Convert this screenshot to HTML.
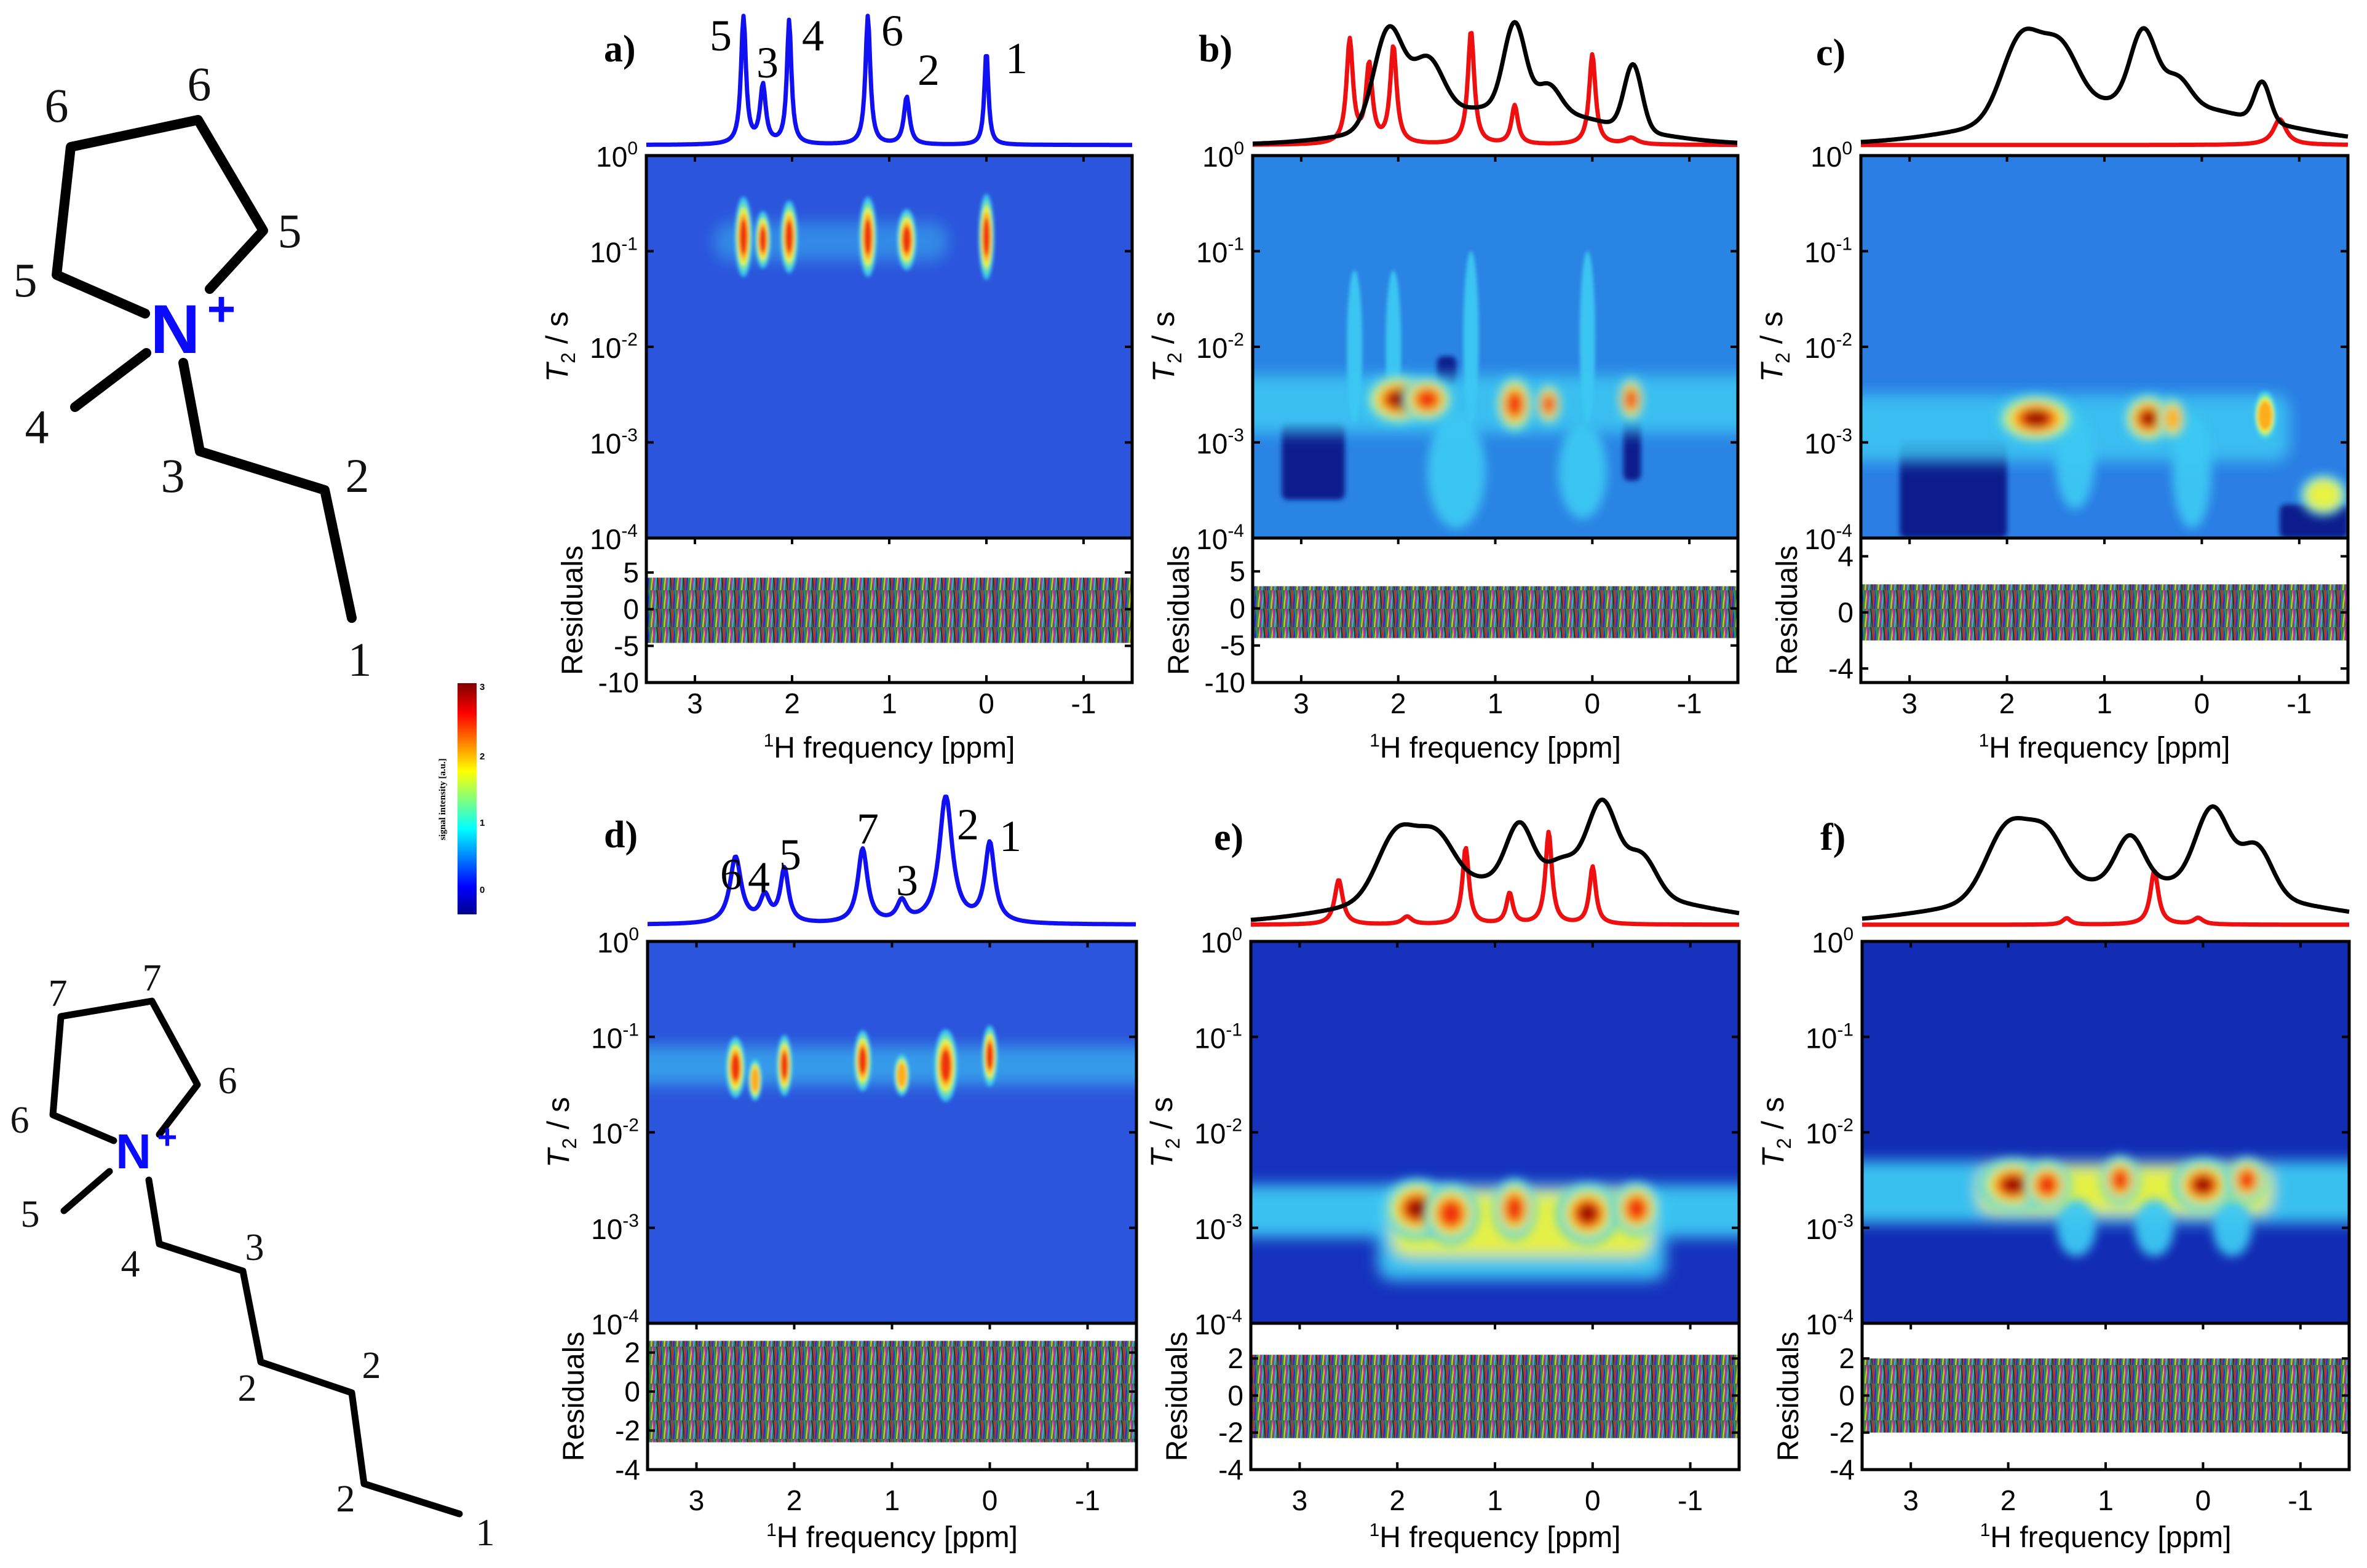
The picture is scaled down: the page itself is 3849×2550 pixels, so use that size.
<!DOCTYPE html>
<html><head><meta charset="utf-8"><title>T2-resolved NMR spectra</title>
<style>
html,body{margin:0;padding:0;background:#fff;}
svg{display:block;}
text{font-family:"Liberation Sans",sans-serif;}
.serif{font-family:"Liberation Serif",serif;}
</style></head>
<body>
<svg id="fig" xmlns="http://www.w3.org/2000/svg" width="3849" height="2550" viewBox="0 0 3849 2550">
<defs>
<filter id="blur" x="-50%" y="-50%" width="200%" height="200%"><feGaussianBlur stdDeviation="8"/></filter>
<filter id="blurS" x="-50%" y="-50%" width="200%" height="200%"><feGaussianBlur stdDeviation="3"/></filter>
<filter id="blurR" x="-20%" y="-50%" width="140%" height="200%"><feGaussianBlur stdDeviation="12"/></filter>
<filter id="blur2" x="-50%" y="-50%" width="200%" height="200%"><feGaussianBlur stdDeviation="4"/></filter>
<linearGradient id="jetgrad" x1="0" y1="1" x2="0" y2="0">
<stop offset="0" stop-color="#00008f"/><stop offset="0.12" stop-color="#0000ff"/><stop offset="0.37" stop-color="#00ffff"/>
<stop offset="0.62" stop-color="#ffff00"/><stop offset="0.87" stop-color="#ff0000"/><stop offset="1" stop-color="#800000"/>
</linearGradient>
<pattern id="resid" width="21" height="30" patternUnits="userSpaceOnUse">
<rect width="21" height="30" fill="#4f6658"/>
<path d="M0 0L3 30" stroke="#e02020" stroke-width="2.4"/><path d="M3 30L6 0" stroke="#2030e0" stroke-width="2.4"/>
<path d="M6 0L9 30" stroke="#20a040" stroke-width="2.4"/><path d="M9 30L12 0" stroke="#c8c820" stroke-width="2.4"/>
<path d="M12 0L15 30" stroke="#d020d0" stroke-width="2.4"/><path d="M15 30L18 0" stroke="#20c0c0" stroke-width="2.4"/>
<path d="M18 0L21 30" stroke="#303030" stroke-width="2.2"/>
</pattern>
</defs>
<g id="mol1" stroke="#000" stroke-width="16" stroke-linecap="round" stroke-linejoin="round" fill="none">
<polyline points="236,510 92,447 115,239 322,195 428,375 341,470"/>
<line x1="238" y1="574" x2="122" y2="662"/>
<polyline points="298,590 325,734 528,797 572,1005"/>
</g>
<g class="serif" font-size="78" fill="#111">
<text class="serif" x="92" y="198" text-anchor="middle">6</text>
<text class="serif" x="324" y="163" text-anchor="middle">6</text>
<text class="serif" x="471" y="402" text-anchor="middle">5</text>
<text class="serif" x="41" y="482" text-anchor="middle">5</text>
<text class="serif" x="60" y="721" text-anchor="middle">4</text>
<text class="serif" x="281" y="800" text-anchor="middle">3</text>
<text class="serif" x="581" y="800" text-anchor="middle">2</text>
<text class="serif" x="585" y="1099" text-anchor="middle">1</text>
<text x="285" y="574" text-anchor="middle" font-size="112" font-weight="bold" fill="#0a0aff">N</text>
<text x="360" y="530" text-anchor="middle" font-size="80" font-weight="bold" fill="#0a0aff">+</text>
</g>
<g id="mol2" stroke="#000" stroke-width="11" stroke-linecap="round" stroke-linejoin="round" fill="none">
<polyline points="185,1855 86,1813 99,1653 247,1628 321,1764 259,1845"/>
<line x1="178" y1="1905" x2="104" y2="1969"/>
<polyline points="242,1919 259,2023 395,2067 424,2215 572,2265 592,2413 747,2462"/>
</g>
<g font-size="62" fill="#111">
<text class="serif" x="94" y="1636" text-anchor="middle">7</text>
<text class="serif" x="247" y="1611" text-anchor="middle">7</text>
<text class="serif" x="370" y="1778" text-anchor="middle">6</text>
<text class="serif" x="32" y="1842" text-anchor="middle">6</text>
<text class="serif" x="49" y="1995" text-anchor="middle">5</text>
<text class="serif" x="212" y="2076" text-anchor="middle">4</text>
<text class="serif" x="414" y="2049" text-anchor="middle">3</text>
<text class="serif" x="402" y="2278" text-anchor="middle">2</text>
<text class="serif" x="604" y="2241" text-anchor="middle">2</text>
<text class="serif" x="562" y="2458" text-anchor="middle">2</text>
<text class="serif" x="789" y="2513" text-anchor="middle">1</text>
<text x="217" y="1900" text-anchor="middle" font-size="80" font-weight="bold" fill="#0a0aff">N</text>
<text x="272" y="1868" text-anchor="middle" font-size="56" font-weight="bold" fill="#0a0aff">+</text>
</g>
<g>
<rect x="744" y="1111" width="31" height="376" fill="url(#jetgrad)"/>
<text x="780" y="1122" font-size="15" font-weight="bold">3</text>
<text x="780" y="1235" font-size="15" font-weight="bold">2</text>
<text x="780" y="1343" font-size="15" font-weight="bold">1</text>
<text x="780" y="1452" font-size="15" font-weight="bold">0</text>
<text x="0" y="0" font-size="15" font-weight="bold" class="serif" text-anchor="middle" transform="translate(724,1300) rotate(-90)">signal intensity [a.u.]</text>
</g>
<g id="panels"></g>
</svg>
<script>
// ---------- data ----------
const xTicks = [3, 2, 1, 0, -1];
const yTickExp = [0, -1, -2, -3, -4];
const ppmMax = 3.5, ppmMin = -1.5;

const aBluePpm = [2.5, 2.3, 2.03, 1.22, 0.82, 0.0];
const aBlueHt  = [1.0, 0.45, 0.96, 1.0, 0.37, 0.73];
const aBlueW   = [0.03, 0.035, 0.028, 0.03, 0.035, 0.025];
const bRedPpm = [2.5, 2.3, 2.05, 1.25, 0.8, 0.0, -0.4];
const bRedHt  = [0.8, 0.6, 0.75, 0.88, 0.3, 0.7, 0.05];
const bRedW   = [0.04, 0.04, 0.04, 0.04, 0.04, 0.04, 0.08];
const bBlackPpm = [2.1, 1.7, 0.8, 0.45, -0.42, 0.9];
const bBlackHt  = [0.75, 0.45, 0.65, 0.2, 0.5, 0.3];
const bBlackW   = [0.15, 0.16, 0.11, 0.12, 0.09, 1.0];
const cRedPpm = [-0.8];
const cRedHt  = [0.2];
const cRedW   = [0.08];
const cBlackPpm = [1.85, 1.45, 0.6, 0.25, -0.62, 0.7];
const cBlackHt  = [0.62, 0.45, 0.55, 0.2, 0.3, 0.35];
const cBlackW   = [0.2, 0.18, 0.13, 0.13, 0.08, 1.2];
const dBluePpm = [2.6, 2.3, 2.1, 1.3, 0.9, 0.45, 0.0];
const dBlueHt  = [0.52, 0.2, 0.42, 0.58, 0.16, 1.0, 0.62];
const dBlueW   = [0.07, 0.06, 0.05, 0.06, 0.06, 0.08, 0.06];
const eRedPpm = [2.6, 1.9, 1.3, 0.85, 0.45, 0.0];
const eRedHt  = [0.35, 0.06, 0.6, 0.24, 0.72, 0.45];
const eRedW   = [0.05, 0.06, 0.04, 0.04, 0.04, 0.04];
const eBlackPpm = [2.0, 1.6, 0.75, 0.3, -0.1, -0.5, 0.7];
const eBlackHt  = [0.5, 0.38, 0.42, 0.15, 0.65, 0.3, 0.38];
const eBlackW   = [0.2, 0.18, 0.13, 0.15, 0.15, 0.15, 1.3];
const fRedPpm = [1.4, 0.5, 0.05];
const fRedHt  = [0.05, 0.42, 0.05];
const fRedW   = [0.05, 0.05, 0.06];
const fBlackPpm = [2.0, 1.6, 0.75, -0.1, -0.55, 0.7];
const fBlackHt  = [0.55, 0.38, 0.35, 0.62, 0.38, 0.35];
const fBlackW   = [0.22, 0.18, 0.14, 0.17, 0.16, 1.4];

// heatmap peaks: ppm, log10(T2), ppm spread, decade spread, level (1=cyan..6=dark red)
const aBlobPpm = [2.5, 2.3, 2.03, 1.22, 0.82, 0.0];
const aBlobLog = [-0.85, -0.88, -0.85, -0.85, -0.88, -0.85];
const aBlobSx  = [0.09, 0.08, 0.09, 0.09, 0.1, 0.08];
const aBlobSy  = [0.42, 0.3, 0.38, 0.42, 0.32, 0.45];
const aBlobLv  = [5, 5, 5, 5, 5, 5];
const bBlobPpm = [2.45, 2.05, 1.25, 0.05, 1.4, 0.1, 2.0, 1.7, 0.8, 0.45, -0.4];
const bBlobLog = [-2.0, -2.0, -1.9, -1.9, -3.3, -3.3, -2.55, -2.55, -2.6, -2.6, -2.55];
const bBlobSx  = [0.08, 0.08, 0.08, 0.08, 0.3, 0.25, 0.35, 0.27, 0.2, 0.14, 0.14];
const bBlobSy  = [0.8, 0.8, 0.9, 0.9, 0.6, 0.5, 0.27, 0.24, 0.3, 0.22, 0.24];
const bBlobLv  = [1, 1, 1, 1, 1, 1, 6, 5, 5, 5, 5];
const cBlobPpm = [1.3, 0.1, 1.7, 0.55, 0.3, -0.65, -1.25];
const cBlobLog = [-3.2, -3.3, -2.75, -2.75, -2.75, -2.72, -3.55];
const cBlobSx  = [0.2, 0.2, 0.42, 0.26, 0.14, 0.12, 0.25];
const cBlobSy  = [0.5, 0.6, 0.26, 0.26, 0.22, 0.26, 0.22];
const cBlobLv  = [1, 1, 6, 6, 4, 4, 3];
const dBlobPpm = [2.6, 2.4, 2.1, 1.3, 0.9, 0.45, 0.0];
const dBlobLog = [-1.32, -1.45, -1.3, -1.25, -1.4, -1.3, -1.2];
const dBlobSx  = [0.1, 0.07, 0.08, 0.09, 0.08, 0.12, 0.08];
const dBlobSy  = [0.32, 0.22, 0.32, 0.32, 0.22, 0.38, 0.32];
const dBlobLv  = [5, 4, 5, 5, 4, 5, 5];
const eBlobPpm = [1.8, 1.45, 0.8, 0.05, -0.45];
const eBlobLog = [-2.8, -2.85, -2.8, -2.85, -2.8];
const eBlobSx  = [0.34, 0.28, 0.22, 0.32, 0.24];
const eBlobSy  = [0.32, 0.32, 0.32, 0.32, 0.28];
const eBlobLv  = [6, 5, 5, 6, 5];
const fBlobPpm = [1.3, 0.5, -0.3, 1.95, 1.6, 0.85, 0.0, -0.45];
const fBlobLog = [-3.0, -3.0, -3.0, -2.55, -2.55, -2.5, -2.55, -2.5];
const fBlobSx  = [0.2, 0.2, 0.2, 0.36, 0.24, 0.2, 0.32, 0.2];
const fBlobSy  = [0.3, 0.3, 0.3, 0.28, 0.26, 0.26, 0.28, 0.24];
const fBlobLv  = [1, 1, 1, 6, 5, 5, 6, 5];

// rectangular intensity regions: ppm from/to, logT2 from/to, level
const aRectP1 = [2.8];  const aRectP2 = [0.4];  const aRectL1 = [-0.7]; const aRectL2 = [-1.1]; const aRectLv = [1];
const bRectP1 = [3.5];  const bRectP2 = [-1.5]; const bRectL1 = [-2.3]; const bRectL2 = [-2.9]; const bRectLv = [1];
const cRectP1 = [3.5];  const cRectP2 = [-0.9]; const cRectL1 = [-2.5]; const cRectL2 = [-3.2]; const cRectLv = [1];
const dRectP1 = [3.5];  const dRectP2 = [-1.5]; const dRectL1 = [-1.1]; const dRectL2 = [-1.5]; const dRectLv = [1];
const eRectP1 = [3.5, 2.2, 2.05];  const eRectP2 = [-1.5, -0.75, -0.6]; const eRectL1 = [-2.55, -2.55, -2.62]; const eRectL2 = [-3.1, -3.55, -3.3]; const eRectLv = [1, 1, 3];
const fRectP1 = [3.5, 2.3];  const fRectP2 = [-1.5, -0.7]; const fRectL1 = [-2.3, -2.35]; const fRectL2 = [-2.95, -2.85]; const fRectLv = [1, 3];

const bDarkPpm1 = [3.2, -0.32, 1.6];
const bDarkPpm2 = [2.55, -0.5, 1.4];
const bDarkLog1 = [-2.8, -2.75, -2.1];
const bDarkLog2 = [-3.6, -3.4, -2.4];
const cDarkPpm1 = [3.1, -0.8];
const cDarkPpm2 = [2.0, -1.5];
const cDarkLog1 = [-3.0, -3.65];
const cDarkLog2 = [-4.0, -4.0];

const resLow  = [-4.6, -4.0, -2.0, -2.6, -2.3, -2.0];
const resHigh = [4.3, 3.0, 2.0, 2.6, 2.2, 2.0];
const resTicksA = [5, 0, -5, -10];
const resTicksC = [4, 0, -4];
const resTicksD = [2, 0, -2, -4];

// ---------- layout ----------
const rowTop = {hy0: 253, hy1: 875, ry1: 1110, tickY: 1160, titleY: 1232, specBase: 240, specTop: 30};
const rowBot = {hy0: 1531, hy1: 2152, ry1: 2390, tickY: 2456, titleY: 2516, specBase: 1508, specTop: 1300};
const panels = [
 {id:'a', x0:1051, x1:1841, r:rowTop, bg:'#2b55dc', res:[-10,9.7], rt:resTicksA, lx:982, ly:100,
  spec:[[aBluePpm,aBlueHt,aBlueW,'#1010f0','L']], blobs:[aBlobPpm,aBlobLog,aBlobSx,aBlobSy,aBlobLv], rects:[aRectP1,aRectP2,aRectL1,aRectL2,aRectLv], rop:0.45, dark:null,
  nums:[['5',1172,82],['3',1248,126],['4',1322,82],['6',1451,74],['2',1510,138],['1',1653,119]]},
 {id:'b', x0:2037, x1:2826, r:rowTop, bg:'#2a84e4', res:[-10,9.5], rt:resTicksA, lx:1949, ly:100,
  spec:[[bRedPpm,bRedHt,bRedW,'#ee1010','L'],[bBlackPpm,bBlackHt,bBlackW,'#000','G']], blobs:[bBlobPpm,bBlobLog,bBlobSx,bBlobSy,bBlobLv], rects:[bRectP1,bRectP2,bRectL1,bRectL2,bRectLv], rop:0.85, dark:[bDarkPpm1,bDarkPpm2,bDarkLog1,bDarkLog2,'#0f1a8c'], nums:[]},
 {id:'c', x0:3026, x1:3818, r:rowTop, bg:'#2a7ee4', res:[-5,5.3], rt:resTicksC, lx:2953, ly:106,
  spec:[[cRedPpm,cRedHt,cRedW,'#ee1010','L'],[cBlackPpm,cBlackHt,cBlackW,'#000','G']], blobs:[cBlobPpm,cBlobLog,cBlobSx,cBlobSy,cBlobLv], rects:[cRectP1,cRectP2,cRectL1,cRectL2,cRectLv], rop:0.85, dark:[cDarkPpm1,cDarkPpm2,cDarkLog1,cDarkLog2,'#0f1a8c'], nums:[]},
 {id:'d', x0:1053, x1:1848, r:rowBot, bg:'#2b55dc', res:[-4,3.5], rt:resTicksD, lx:982, ly:1378,
  spec:[[dBluePpm,dBlueHt,dBlueW,'#1010f0','L']], blobs:[dBlobPpm,dBlobLog,dBlobSx,dBlobSy,dBlobLv], rects:[dRectP1,dRectP2,dRectL1,dRectL2,dRectLv], rop:0.6, dark:null,
  nums:[['6',1189,1446],['4',1234,1451],['5',1285,1414],['7',1411,1372],['3',1475,1456],['2',1574,1365],['1',1643,1384]]},
 {id:'e', x0:2034, x1:2828, r:rowBot, bg:'#1632bc', res:[-4,3.9], rt:resTicksD, lx:1974, ly:1382,
  spec:[[eRedPpm,eRedHt,eRedW,'#ee1010','L'],[eBlackPpm,eBlackHt,eBlackW,'#000','G']], blobs:[eBlobPpm,eBlobLog,eBlobSx,eBlobSy,eBlobLv], rects:[eRectP1,eRectP2,eRectL1,eRectL2,eRectLv], rop:0.95, dark:null, nums:[]},
 {id:'f', x0:3028, x1:3820, r:rowBot, bg:'#122cb4', res:[-4,3.9], rt:resTicksD, lx:2960, ly:1382,
  spec:[[fRedPpm,fRedHt,fRedW,'#ee1010','L'],[fBlackPpm,fBlackHt,fBlackW,'#000','G']], blobs:[fBlobPpm,fBlobLog,fBlobSx,fBlobSy,fBlobLv], rects:[fRectP1,fRectP2,fRectL1,fRectL2,fRectLv], rop:0.95, dark:null, nums:[]}
];
const jet = ['#3cc8f2','#70e6a8','#eef23c','#ffa81e','#ee2a0e','#8e0a04'];
const NS = 'http://www.w3.org/2000/svg';
const root = document.getElementById('panels');
function mk(tag, attrs, parent){ const e=document.createElementNS(NS,tag); for(const k in attrs) e.setAttribute(k,attrs[k]); (parent||root).appendChild(e); return e; }

panels.forEach((p, idx) => {
  const R = p.r;
  const g = mk('g', {});
  
  
  const X = v => p.x0 + (ppmMax - v) / (ppmMax - ppmMin) * (p.x1 - p.x0);
  const Y = lg => R.hy0 + (0 - lg) / 4 * (R.hy1 - R.hy0);
  const pxPpm = (p.x1 - p.x0) / (ppmMax - ppmMin);
  const pxDec = (R.hy1 - R.hy0) / 4;
  const ry0 = R.hy1, ry1 = R.ry1;
  const RY = v => ry1 - (v - p.res[0]) / (p.res[1] - p.res[0]) * (ry1 - ry0);

  const sg = mk('g', {}, g);
  
  
  p.spec.forEach(s => {
    const [pp, hh, ww, col, kind] = s;
    let d = '';
    for (let px = p.x0; px <= p.x1; px += 2) {
      const v = ppmMax - (px - p.x0) / pxPpm;
      let y = 0.02;
      for (let i = 0; i < pp.length; i++) {
        const t = (v - pp[i]) / ww[i];
        y += kind === 'L' ? hh[i] / (1 + t * t) : hh[i] * Math.exp(-0.5 * t * t);
      }
      y = Math.min(y, 1.02);
      d += (d ? 'L' : 'M') + px + ' ' + (R.specBase - y * (R.specBase - R.specTop)).toFixed(1);
    }
    const path = mk('path', {d: d, fill: 'none', stroke: col, 'stroke-width': 7, 'stroke-linejoin': 'round'}, sg);
    
    
  });

  const cid = 'clip' + p.id;
  const cp = mk('clipPath', {id: cid}, g);
  mk('rect', {x: p.x0, y: R.hy0, width: p.x1 - p.x0, height: R.hy1 - R.hy0}, cp);
  const hg = mk('g', {'clip-path': 'url(#' + cid + ')'}, g);
  
  
  mk('rect', {x: p.x0, y: R.hy0, width: p.x1 - p.x0, height: R.hy1 - R.hy0, fill: p.bg}, hg);
  if (p.dark) {
    const [a1, a2, l1, l2, col] = p.dark;
    const dg = mk('g', {filter: 'url(#blur2)'}, hg);
    for (let i = 0; i < a1.length; i++) {
      const r = mk('rect', {x: X(a1[i]), y: Y(l1[i]), width: X(a2[i]) - X(a1[i]), height: Y(l2[i]) - Y(l1[i]), fill: col, rx: 10}, dg);
      
      
    }
  }
  const [q1, q2, m1, m2, qlv] = p.rects;
  const rgp = mk('g', {filter: 'url(#blurR)'}, hg);
  for (let i = 0; i < q1.length; i++) {
    const r = mk('rect', {x: X(q1[i]) - (q1[i] >= 3.5 ? 40 : 0), y: Y(m1[i]), width: X(q2[i]) - X(q1[i]) + (q1[i] >= 3.5 ? 40 : 0) + (q2[i] <= -1.5 ? 40 : 0), height: Y(m2[i]) - Y(m1[i]), rx: 25, fill: jet[qlv[i] - 1], opacity: qlv[i] === 1 ? p.rop : 0.95}, rgp);
    
    
  }
  const [bp, bl, bsx, bsy, blv] = p.blobs;
  for (let i = 0; i < bp.length; i++) {
    const rx = bsx[i] * pxPpm, ry = bsy[i] * pxDec;
    const bgp = mk('g', {filter: Math.min(rx, ry) < 22 ? 'url(#blurS)' : 'url(#blur)'}, hg);
    for (let k = 0; k < blv[i]; k++) {
      const f = 1 - k * 0.14;
      const e = mk('ellipse', {cx: X(bp[i]), cy: Y(bl[i]), rx: Math.max(3, rx * f), ry: Math.max(3, ry * f), fill: jet[k], opacity: 0.95}, bgp);
      
      
    }
  }
  mk('rect', {x: p.x0, y: R.hy0, width: p.x1 - p.x0, height: R.hy1 - R.hy0, fill: 'none', stroke: '#000', 'stroke-width': 5}, g);

  const rg = mk('g', {}, g);
  
  
  const band = mk('rect', {x: p.x0, y: RY(resHigh[idx]), width: p.x1 - p.x0, height: RY(resLow[idx]) - RY(resHigh[idx]), fill: 'url(#resid)'}, rg);
  
  
  mk('rect', {x: p.x0, y: ry0, width: p.x1 - p.x0, height: ry1 - ry0, fill: 'none', stroke: '#000', 'stroke-width': 5}, g);

  xTicks.forEach(t => {
    const x = X(t);
    mk('line', {x1: x, x2: x, y1: ry1, y2: ry1 - 12, stroke: '#000', 'stroke-width': 4}, g);
    mk('line', {x1: x, x2: x, y1: R.hy0, y2: R.hy0 + 10, stroke: '#000', 'stroke-width': 4}, g);
    mk('line', {x1: x, x2: x, y1: ry0, y2: ry0 + 10, stroke: '#000', 'stroke-width': 4}, g);
    const tx = mk('text', {x: x, y: R.tickY, 'text-anchor': 'middle', 'font-size': 46}, g);
    tx.textContent = t === -1 ? '-1' : String(t);
    
    
  });
  const xt = mk('text', {x: (p.x0 + p.x1) / 2, y: R.titleY, 'text-anchor': 'middle', 'font-size': 48}, g);
  const s1 = mk('tspan', {'font-size': 30, dy: -18}, xt); s1.textContent = '1';
  const s2 = mk('tspan', {dy: 18}, xt); s2.textContent = 'H frequency [ppm]';
  
  

  yTickExp.forEach(ex => {
    const y = Y(ex);
    mk('line', {x1: p.x0, x2: p.x0 + 12, y1: y, y2: y, stroke: '#000', 'stroke-width': 4}, g);
    mk('line', {x1: p.x1, x2: p.x1 - 12, y1: y, y2: y, stroke: '#000', 'stroke-width': 4}, g);
    const tx = mk('text', {x: p.x0 - 14, y: y + 18, 'text-anchor': 'end', 'font-size': 46}, g);
    const t1 = mk('tspan', {}, tx); t1.textContent = '10';
    const t2 = mk('tspan', {'font-size': 30, dy: -20}, tx); t2.textContent = String(ex);
    
    
  });
  const yt = mk('text', {x: 0, y: 0, 'text-anchor': 'middle', 'font-size': 50, transform: 'translate(' + (p.x0 - 128) + ',' + ((R.hy0 + R.hy1) / 2) + ') rotate(-90)'}, g);
  const y1s = mk('tspan', {'font-style': 'italic'}, yt); y1s.textContent = 'T';
  const y2s = mk('tspan', {'font-size': 32, dy: 12}, yt); y2s.textContent = '2';
  const y3s = mk('tspan', {dy: -12}, yt); y3s.textContent = ' / s';
  
  

  p.rt.forEach(t => {
    const y = RY(t);
    mk('line', {x1: p.x0, x2: p.x0 + 12, y1: y, y2: y, stroke: '#000', 'stroke-width': 4}, g);
    mk('line', {x1: p.x1, x2: p.x1 - 12, y1: y, y2: y, stroke: '#000', 'stroke-width': 4}, g);
    const tx = mk('text', {x: p.x0 - 12, y: y + 16, 'text-anchor': 'end', 'font-size': 46}, g);
    tx.textContent = String(t);
    
    
  });
  const rt = mk('text', {x: 0, y: 0, 'text-anchor': 'middle', 'font-size': 48, transform: 'translate(' + (p.x0 - 104) + ',' + ((ry0 + ry1) / 2) + ') rotate(-90)'}, g);
  rt.textContent = 'Residuals';
  
  

  const pl = mk('text', {x: p.lx, y: p.ly, 'font-size': 62, 'font-weight': 'bold', class: 'serif'}, g);
  pl.textContent = p.id + ')';
  
  
  p.nums.forEach(n => {
    const t = mk('text', {x: n[1], y: n[2], 'text-anchor': 'middle', 'font-size': 72, class: 'serif'}, g);
    t.textContent = n[0];
    
    
  });
});
</script>
</body></html>
